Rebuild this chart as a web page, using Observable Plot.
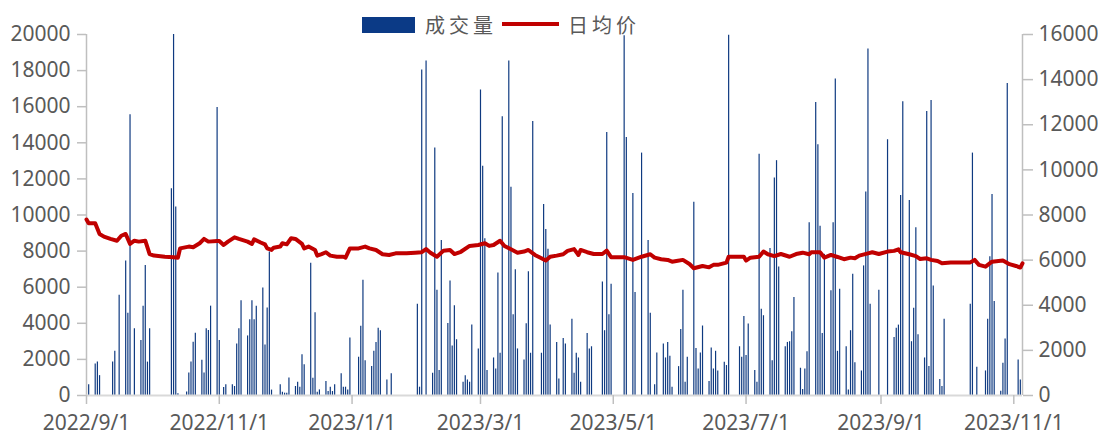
<!DOCTYPE html>
<html><head><meta charset="utf-8">
<script src="https://cdn.jsdelivr.net/npm/d3@7"></script>
<script src="https://cdn.jsdelivr.net/npm/@observablehq/plot@0.6"></script>
<style>
body{margin:0;background:#fff;}
#wrap{position:relative;width:1098px;height:435px;}
.lg{position:absolute;}
.lt{position:absolute;font-family:"Noto Sans CJK SC","Noto Sans",sans-serif;font-size:20px;letter-spacing:4px;color:#595959;line-height:20px;white-space:nowrap;}
</style></head><body>
<div id="wrap"></div>
<script>
const seriesNames = ["成交量", "日均价"];
const xTickLabels = ["2022/9/1","2022/11/1","2023/1/1","2023/3/1","2023/5/1","2023/7/1","2023/9/1","2023/11/1"];
const volumeTicks = [0,2000,4000,6000,8000,10000,12000,14000,16000,18000,20000];
const priceTicks = [0,2000,4000,6000,8000,10000,12000,14000,16000];
const xDomain = ["2022-09-01","2023-11-05"];

const barDates = [
"2022-09-02","2022-09-05","2022-09-06","2022-09-07","2022-09-13","2022-09-14","2022-09-16","2022-09-19","2022-09-20","2022-09-21","2022-09-23","2022-09-26","2022-09-27","2022-09-28","2022-09-29","2022-09-30",
"2022-10-10","2022-10-11","2022-10-12","2022-10-13","2022-10-17","2022-10-18","2022-10-19","2022-10-20","2022-10-21","2022-10-24","2022-10-25","2022-10-26","2022-10-27","2022-10-28","2022-10-31",
"2022-11-01","2022-11-03","2022-11-04","2022-11-07","2022-11-08","2022-11-09","2022-11-10","2022-11-11","2022-11-14","2022-11-15","2022-11-16","2022-11-17","2022-11-18","2022-11-21","2022-11-22","2022-11-23","2022-11-24","2022-11-25","2022-11-29","2022-11-30",
"2022-12-01","2022-12-02","2022-12-03","2022-12-06","2022-12-07","2022-12-08","2022-12-09","2022-12-10","2022-12-13","2022-12-14","2022-12-15","2022-12-16","2022-12-17","2022-12-20","2022-12-21","2022-12-22","2022-12-23","2022-12-24","2022-12-27","2022-12-28","2022-12-29","2022-12-30","2022-12-31",
"2023-01-04","2023-01-05","2023-01-06","2023-01-07","2023-01-10","2023-01-11","2023-01-12","2023-01-13","2023-01-14","2023-01-17","2023-01-19","2023-01-31",
"2023-02-01","2023-02-02","2023-02-04","2023-02-07","2023-02-08","2023-02-09","2023-02-10","2023-02-11","2023-02-14","2023-02-15","2023-02-16","2023-02-17","2023-02-18","2023-02-21","2023-02-22","2023-02-23","2023-02-24","2023-02-25","2023-02-28",
"2023-03-01","2023-03-02","2023-03-03","2023-03-04","2023-03-07","2023-03-08","2023-03-09","2023-03-10","2023-03-11","2023-03-14","2023-03-15","2023-03-16","2023-03-17","2023-03-18","2023-03-21","2023-03-22","2023-03-23","2023-03-24","2023-03-25","2023-03-29","2023-03-30","2023-03-31",
"2023-04-01","2023-04-02","2023-04-05","2023-04-06","2023-04-08","2023-04-09","2023-04-12","2023-04-13","2023-04-14","2023-04-15","2023-04-16","2023-04-19","2023-04-20","2023-04-21","2023-04-26","2023-04-27","2023-04-28","2023-04-29","2023-04-30",
"2023-05-06","2023-05-07","2023-05-10","2023-05-11","2023-05-14","2023-05-17","2023-05-18","2023-05-20","2023-05-21","2023-05-24","2023-05-25","2023-05-26","2023-05-27","2023-05-28","2023-05-31",
"2023-06-01","2023-06-02","2023-06-03","2023-06-04","2023-06-07","2023-06-08","2023-06-09","2023-06-10","2023-06-11","2023-06-14","2023-06-15","2023-06-16","2023-06-17","2023-06-18","2023-06-21","2023-06-22","2023-06-23","2023-06-28","2023-06-29","2023-06-30",
"2023-07-01","2023-07-02","2023-07-05","2023-07-06","2023-07-07","2023-07-08","2023-07-09","2023-07-12","2023-07-13","2023-07-14","2023-07-15","2023-07-16","2023-07-19","2023-07-20","2023-07-21","2023-07-22","2023-07-23","2023-07-26","2023-07-27","2023-07-28","2023-07-29","2023-07-30",
"2023-08-02","2023-08-03","2023-08-04","2023-08-05","2023-08-06","2023-08-09","2023-08-10","2023-08-11","2023-08-12","2023-08-13","2023-08-16","2023-08-17","2023-08-18","2023-08-19","2023-08-20","2023-08-23","2023-08-24","2023-08-25","2023-08-26","2023-08-27","2023-08-31",
"2023-09-04","2023-09-07","2023-09-08","2023-09-09","2023-09-10","2023-09-11","2023-09-14","2023-09-15","2023-09-16","2023-09-17","2023-09-18","2023-09-21","2023-09-22","2023-09-23","2023-09-24","2023-09-25","2023-09-28","2023-09-29","2023-09-30",
"2023-10-12","2023-10-13","2023-10-15","2023-10-19","2023-10-20","2023-10-21","2023-10-22","2023-10-23","2023-10-26","2023-10-27","2023-10-28","2023-10-29",
"2023-11-03","2023-11-04"
];
const barVolumes = [
600,1750,1850,1100,1850,2450,5550,7450,4550,15550,3700,3050,4950,7200,1850,3700,
11450,20000,10450,100,200,1250,1850,2950,3450,1950,1250,3700,3600,4950,15950,
3050,450,600,600,500,2850,3700,5250,3300,4200,5250,4200,4950,5950,2800,4850,7950,300,590,180,
130,130,975,500,740,460,2260,1710,7320,960,4580,180,310,770,220,460,220,590,1200,460,460,310,3180,
2120,3830,6380,1930,1600,2450,2940,3720,3590,860,1200,5060,
460,18030,18530,1230,13710,5830,1380,8590,3990,6350,2740,4970,3090,740,1100,860,740,3900,2580,
16930,12700,8690,1380,2080,1470,6790,2340,15440,18530,11540,4470,6960,2580,1970,3970,6850,2340,15180,2340,10580,9200,
8100,3900,2930,920,3160,2850,4230,1230,2340,2080,740,3440,2580,2700,6290,3590,14570,4470,6160,
19930,14300,11190,5700,13430,8590,4560,590,2360,2850,2080,2940,2170,460,1600,
3660,5830,740,2120,10710,2610,1470,2360,3850,770,2630,1470,2450,1360,1840,1660,19960,2700,2120,4380,
2210,3960,1380,740,13360,4780,4420,8150,1930,12050,13010,7120,2700,2940,2980,3530,5430,1510,330,1470,2430,9570,
16230,13890,9380,3440,7820,5800,9570,17540,2450,5890,2700,310,3590,6720,1820,1360,7180,11280,19190,5060,5830,
14170,3220,3720,3900,11080,16280,10800,2980,4840,9290,3370,2080,15730,1600,16340,6070,880,500,4230,
5060,13430,1560,1360,4230,7690,11130,5210,240,1790,3130,17280,
1970,860
];

const priceDates = [
"2022-09-01","2022-09-02","2022-09-05","2022-09-07","2022-09-09","2022-09-12","2022-09-15","2022-09-17","2022-09-19","2022-09-21","2022-09-23","2022-09-25","2022-09-28","2022-09-30",
"2022-10-02","2022-10-07","2022-10-11","2022-10-13","2022-10-14","2022-10-18","2022-10-20","2022-10-23","2022-10-25","2022-10-27","2022-10-31",
"2022-11-01","2022-11-03","2022-11-05","2022-11-08","2022-11-10","2022-11-14","2022-11-16","2022-11-17","2022-11-20","2022-11-22","2022-11-23","2022-11-25","2022-11-26","2022-11-29","2022-11-30",
"2022-12-02","2022-12-04","2022-12-06","2022-12-09","2022-12-10","2022-12-12","2022-12-15","2022-12-16","2022-12-18","2022-12-20","2022-12-22","2022-12-25","2022-12-28","2022-12-29","2022-12-31",
"2023-01-04","2023-01-07","2023-01-09","2023-01-12","2023-01-15","2023-01-18","2023-01-21","2023-01-26","2023-01-30",
"2023-02-02","2023-02-04","2023-02-06","2023-02-09","2023-02-12","2023-02-15","2023-02-17","2023-02-20","2023-02-24","2023-02-28",
"2023-03-03","2023-03-05","2023-03-07","2023-03-10","2023-03-12","2023-03-15","2023-03-18","2023-03-21","2023-03-23","2023-03-26","2023-03-29","2023-03-31",
"2023-04-02","2023-04-05","2023-04-08","2023-04-10","2023-04-13","2023-04-15","2023-04-16","2023-04-19","2023-04-22","2023-04-26","2023-04-28","2023-04-30",
"2023-05-06","2023-05-10","2023-05-14","2023-05-18","2023-05-20","2023-05-23","2023-05-26","2023-05-28","2023-05-30",
"2023-06-02","2023-06-05","2023-06-07","2023-06-11","2023-06-14","2023-06-16","2023-06-18","2023-06-22","2023-06-23","2023-06-28","2023-06-30",
"2023-07-01","2023-07-03","2023-07-07","2023-07-09","2023-07-11","2023-07-14","2023-07-17","2023-07-21","2023-07-24","2023-07-27","2023-07-30","2023-07-31",
"2023-08-04","2023-08-06","2023-08-09","2023-08-12","2023-08-15","2023-08-18","2023-08-20","2023-08-22","2023-08-26","2023-08-28","2023-08-31",
"2023-09-04","2023-09-07","2023-09-09","2023-09-10","2023-09-14","2023-09-17","2023-09-19","2023-09-22","2023-09-24","2023-09-27","2023-09-29",
"2023-10-03","2023-10-07","2023-10-12","2023-10-14","2023-10-16","2023-10-19","2023-10-22","2023-10-27","2023-10-30",
"2023-11-02","2023-11-04","2023-11-05"
];
const priceValues = [
7800,7630,7630,7160,7040,6940,6860,7080,7160,6720,6860,6820,6860,6270,
6200,6150,6125,6110,6520,6600,6570,6750,6940,6820,6850,
6850,6670,6820,7010,6940,6820,6720,6920,6780,6700,6520,6450,6550,6600,6750,
6700,6970,6940,6720,6520,6600,6450,6200,6270,6350,6200,6150,6150,6110,6520,
6520,6600,6520,6450,6260,6230,6300,6300,6330,
6350,6490,6330,6150,6420,6450,6270,6370,6630,6670,
6750,6630,6670,6860,6630,6480,6330,6380,6450,6230,6080,5980,
6150,6200,6260,6410,6490,6230,6450,6350,6270,6270,6420,6130,
6130,6010,6150,6260,6110,6040,6010,5930,5960,
6010,5830,5640,5740,5680,5790,5790,5890,6150,6150,6150,
5980,6110,6150,6380,6260,6180,6270,6150,6270,6330,6260,6350,
6350,6110,6230,6140,6040,6110,6080,6200,6300,6350,6270,
6380,6410,6480,6350,6260,6180,6050,6080,6010,5960,5860,
5890,5900,5900,6010,5790,5710,5930,5980,5820,
5740,5670,5860
];

const parse = d3.utcParse("%Y-%m-%d");
const bars = barDates.map((d, i) => ({date: parse(d), volume: barVolumes[i]}));
const prices = priceDates.map((d, i) => ({date: parse(d), price: priceValues[i]}));
const volMax = volumeTicks[volumeTicks.length - 1];
const priceMax = priceTicks[priceTicks.length - 1];
const k = volMax / priceMax;
const xDom = xDomain.map(parse);
const xTicks = xTickLabels.map(s => d3.utcParse("%Y/%m/%d")(s));

const axisGray = "#bfbfbf";
const textGray = "#595959";

const chart = Plot.plot({
  width: 1098, height: 435,
  marginLeft: 86, marginRight: 76, marginTop: 34, marginBottom: 40,
  style: {fontFamily: '"Noto Sans", sans-serif', background: "#fff", color: textGray, overflow: "visible"},
  x: {type: "utc", domain: xDom},
  y: {domain: [0, volMax]},
  marks: [
    Plot.ruleX(bars, {x: "date", y1: 0, y2: "volume", stroke: "#0f3a80", strokeWidth: 1.2}),
    Plot.ruleX(xDom, {stroke: axisGray, strokeWidth: 1.5}),
    Plot.ruleY([0], {stroke: "#d9d9d9", strokeWidth: 2}),
    Plot.line(prices, {x: "date", y: d => d.price * k, stroke: "#c00000", strokeWidth: 4, strokeLinejoin: "round", strokeLinecap: "round"}),
    Plot.axisY(volumeTicks, {anchor: "left", tickSize: 9, tickPadding: 7, fontSize: 21, stroke: axisGray, strokeWidth: 1.5, fill: textGray, label: null, tickFormat: v => String(v)}),
    Plot.axisY(priceTicks.map(v => v * k), {anchor: "right", tickSize: 10, tickPadding: 6, fontSize: 21, stroke: axisGray, strokeWidth: 1.5, fill: textGray, label: null, tickFormat: v => String(Math.round(v / k))}),
    Plot.axisX(xTicks, {anchor: "bottom", tickSize: 9, tickPadding: 11, fontSize: 21, stroke: axisGray, strokeWidth: 1.5, fill: textGray, label: null, tickFormat: d3.utcFormat("%Y/%-m/%-d")})
  ]
});

const wrap = document.getElementById("wrap");
wrap.appendChild(chart);

function add(cls, css, text) {
  const el = document.createElement("div");
  el.className = cls;
  el.style.cssText = css;
  if (text) el.textContent = text;
  wrap.appendChild(el);
}
add("lg", "left:362px;top:17px;width:53px;height:16px;background:#0b3a86;");
add("lt", "left:425px;top:15px;", seriesNames[0]);
add("lg", "left:502px;top:22px;width:57px;height:4px;background:#c00000;");
add("lt", "left:568px;top:15px;", seriesNames[1]);
</script>
</body></html>
